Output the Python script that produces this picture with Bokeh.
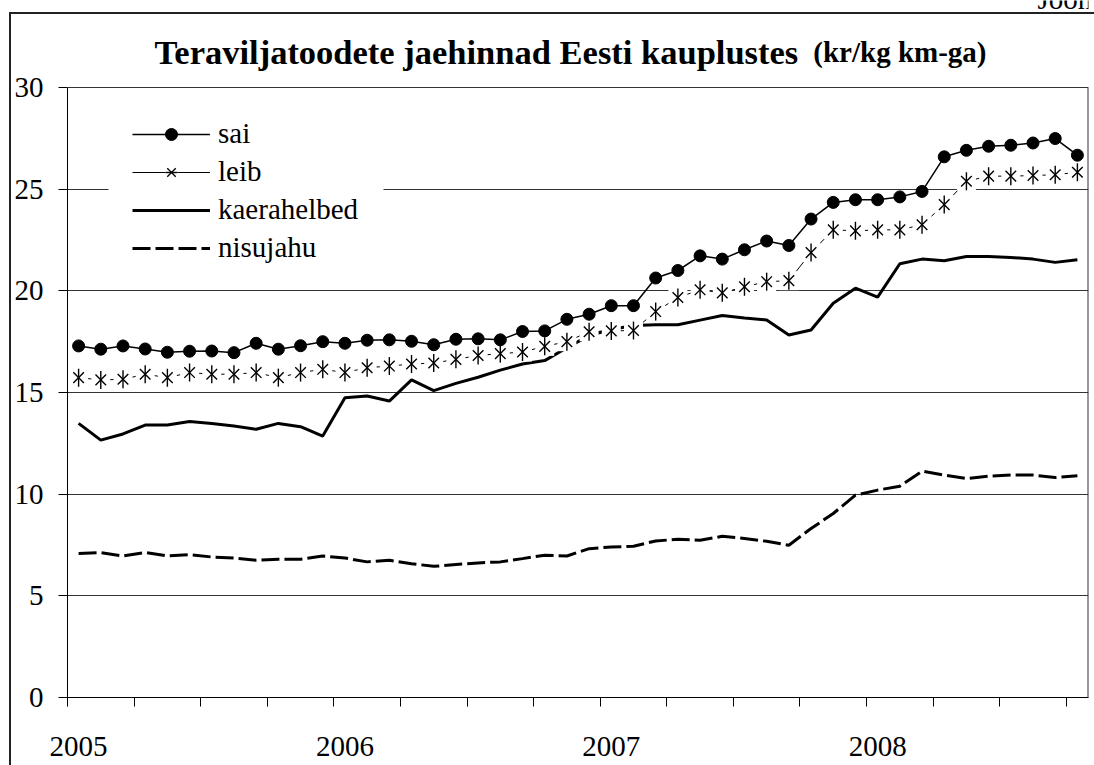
import numpy as np
from bokeh.plotting import figure
from bokeh.models import (Range1d, FixedTicker, Legend, LegendItem, Label, BoxAnnotation)
from bokeh.core.properties import value
from bokeh.embed import file_html
from bokeh.resources import INLINE

# ---------------- data (monthly, Jan 2005 .. Oct 2008) ----------------
sai = [17.29, 17.13, 17.29, 17.14, 16.98, 17.03, 17.04, 16.96, 17.42, 17.13,
       17.30, 17.50, 17.42, 17.57, 17.59, 17.52, 17.35, 17.62, 17.64, 17.59,
       18.00, 18.03, 18.60, 18.85, 19.27, 19.27, 20.63, 21.00, 21.72, 21.56,
       22.02, 22.45, 22.23, 23.53, 24.35, 24.48, 24.48, 24.62, 24.89, 26.59,
       26.91, 27.11, 27.16, 27.27, 27.49, 26.67]
leib = [15.73, 15.62, 15.65, 15.90, 15.73, 15.98, 15.90, 15.90, 15.98, 15.73,
        15.98, 16.14, 15.98, 16.22, 16.30, 16.40, 16.45, 16.63, 16.82, 16.91,
        16.99, 17.27, 17.50, 17.99, 18.03, 18.05, 18.98, 19.67, 20.05, 19.90,
        20.20, 20.45, 20.50, 21.88, 23.00, 22.95, 23.00, 23.00, 23.25, 24.24,
        25.39, 25.64, 25.64, 25.67, 25.71, 25.83]
kaerahelbed = [13.48, 12.66, 12.96, 13.40, 13.40, 13.57, 13.48, 13.35, 13.19, 13.48,
               13.32, 12.86, 14.74, 14.83, 14.58, 15.62, 15.09, 15.45, 15.75, 16.10,
               16.40, 16.57, 17.20, 17.80, 18.10, 18.30, 18.33, 18.33, 18.56, 18.79,
               18.66, 18.57, 17.83, 18.07, 19.39, 20.13, 19.69, 21.33, 21.56, 21.48,
               21.69, 21.69, 21.64, 21.56, 21.40, 21.53]
nisujahu = [7.08, 7.13, 6.96, 7.13, 6.96, 7.03, 6.91, 6.86, 6.75, 6.80,
            6.80, 6.96, 6.86, 6.67, 6.75, 6.58, 6.45, 6.54, 6.62, 6.67,
            6.83, 7.00, 6.96, 7.32, 7.40, 7.44, 7.70, 7.78, 7.73, 7.93,
            7.82, 7.68, 7.49, 8.31, 9.05, 9.95, 10.20, 10.39, 11.13, 10.94,
            10.77, 10.89, 10.94, 10.94, 10.82, 10.90]
years = ["2005", "2006", "2007", "2008"]
year_index = [0, 12, 24, 36]          # month index of each January
yticks = [0, 5, 10, 15, 20, 25, 30]
series_names = ["sai", "leib", "kaerahelbed", "nisujahu"]
title_main = "Teraviljatoodete jaehinnad Eesti kauplustes"
title_unit = "(kr/kg km-ga)"
corner_text = "Joon"

FONT = "Liberation Serif"
n = len(sai)
x = np.arange(n)

W, H = 1094, 765
FRAME_L, FRAME_R, PLOT_TOP, FRAME_B = 67, 1088, 87, 697
ymax = yticks[-1]
# the frame reaches the top of the canvas so that the title texts sit inside it
y_top = ymax * FRAME_B / (FRAME_B - PLOT_TOP)

p = figure(width=W, height=H, output_backend="svg", toolbar_location=None,
           x_range=Range1d(-0.5, n - 0.5), y_range=Range1d(0, y_top),
           min_border_left=FRAME_L, min_border_right=W - FRAME_R,
           min_border_top=0, min_border_bottom=H - FRAME_B)
p.border_fill_alpha = 0
p.background_fill_alpha = 0
p.outline_line_color = None
# outer chart-area border: only its left and top edges fall inside the page
p.styles = {
    "background-image": "linear-gradient(#222, #222), linear-gradient(#222, #222)",
    "background-size": "2px 100%, 100% 2px",
    "background-position": "9px 12px, 9px 12px",
    "background-repeat": "no-repeat",
}

# y axis
p.yaxis.ticker = FixedTicker(ticks=yticks)
p.yaxis.bounds = (0, ymax)
p.yaxis.major_tick_out = 9
p.yaxis.major_tick_in = 0
p.yaxis.minor_tick_out = 0
p.yaxis.minor_tick_in = 0
p.yaxis.axis_line_color = "black"
p.yaxis.major_tick_line_color = "black"
p.yaxis.major_label_text_font = FONT
p.yaxis.major_label_text_font_size = "29px"
p.yaxis.major_label_text_color = "black"
p.yaxis.major_label_standoff = 15
p.ygrid.ticker = FixedTicker(ticks=yticks[1:-1])
p.ygrid.grid_line_color = "#333333"
p.ygrid.grid_line_width = 1
p.xgrid.visible = False

# x axis: quarterly tick marks, year labels at January category centres
p.xaxis.ticker = FixedTicker(ticks=year_index, minor_ticks=[i - 0.5 for i in range(0, n, 3)])
p.xaxis.major_label_overrides = {i: y for i, y in zip(year_index, years)}
p.xaxis.bounds = (-0.5, n - 0.5)
p.xaxis.minor_tick_out = 9
p.xaxis.minor_tick_in = 0
p.xaxis.major_tick_out = 0
p.xaxis.major_tick_in = 0
p.xaxis.minor_tick_line_color = "black"
p.xaxis.axis_line_color = "black"
p.xaxis.major_label_text_font = FONT
p.xaxis.major_label_text_font_size = "29px"
p.xaxis.major_label_text_color = "black"
p.xaxis.major_label_standoff = 30

# plot-area border (top and right edges)
p.segment(x0=[-0.5], y0=[ymax], x1=[n - 0.5], y1=[ymax], line_color="#333333", line_width=1)
p.segment(x0=[n - 0.5], y0=[0], x1=[n - 0.5], y1=[ymax], line_color="#333333", line_width=2)

# series
r_k = p.line(x, kaerahelbed, line_color="black", line_width=3)
r_n = p.line(x, nisujahu, line_color="black", line_width=3, line_dash="18 5")
r_l = p.line(x, leib, line_color="black", line_width=1)
r_lsq = p.scatter(x, leib, marker="square", size=19, fill_color="white", line_color=None)
r_lx = p.scatter(x, leib, marker="x", size=15, line_color="black", line_width=1.4)
r_lv = p.scatter(x, leib, marker="dash", size=18, angle=np.pi / 2, line_color="black", line_width=1.4)
r_sl = p.line(x, sai, line_color="black", line_width=1.5)
r_sp = p.scatter(x, sai, marker="circle", size=12, fill_color="black", line_color="black")

# white backdrop of the legend (hides the gridline behind it)
p.add_layout(BoxAnnotation(left=108, right=383, top=112, bottom=268,
                           left_units="canvas", right_units="canvas",
                           top_units="canvas", bottom_units="canvas",
                           fill_color="white", fill_alpha=1, line_color=None))

legend = Legend(items=[
    LegendItem(label=value(series_names[0]), renderers=[r_sl, r_sp]),
    LegendItem(label=value(series_names[1]), renderers=[r_l, r_lsq, r_lx, r_lv]),
    LegendItem(label=value(series_names[2]), renderers=[r_k]),
    LegendItem(label=value(series_names[3]), renderers=[r_n]),
], location=(65, 433))
legend.glyph_width = 78
legend.glyph_height = 30
legend.label_height = 30
legend.label_standoff = 8
legend.spacing = 5
legend.padding = 0
legend.margin = 0
legend.border_line_color = None
legend.background_fill_color = "white"
legend.background_fill_alpha = 1
legend.label_text_font = FONT
legend.label_text_font_size = "29px"
legend.label_text_color = "black"
p.add_layout(legend)

# titles (inside the frame area, above the plot box)
p.add_layout(Label(x=154, y=51, x_units="canvas", y_units="canvas", text=title_main,
                   text_font=FONT, text_font_size="34.5px", text_font_style="bold",
                   text_baseline="alphabetic", text_align="left", text_color="black"))
p.add_layout(Label(x=986, y=51, x_units="canvas", y_units="canvas", text=title_unit,
                   text_font=FONT, text_font_size="29px", text_font_style="bold",
                   text_baseline="alphabetic", text_align="right", text_color="black"))
p.add_layout(Label(x=1037, y=-2, x_units="canvas", y_units="canvas", text=corner_text,
                   text_font=FONT, text_font_size="29px",
                   text_baseline="alphabetic", text_align="left", text_color="black"))

open("out.html", "w").write(file_html(p, INLINE))
